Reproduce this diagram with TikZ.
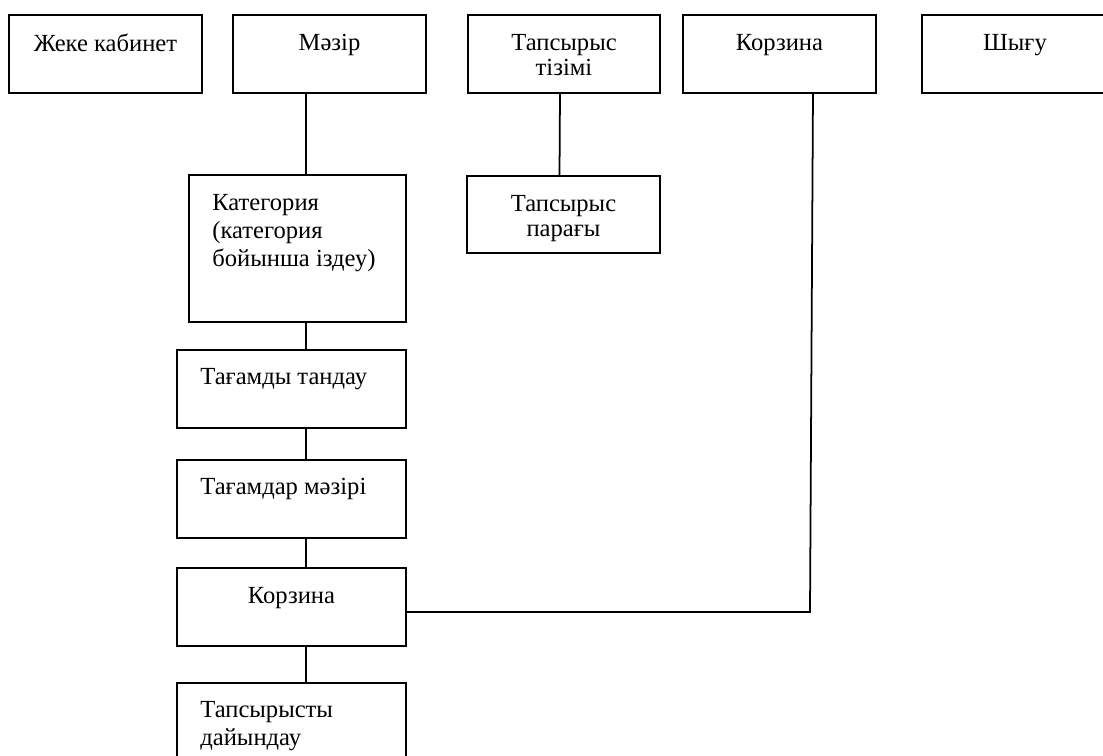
\documentclass[tikz,border=0pt]{standalone}
\usepackage{fontspec}
\setmainfont{Liberation Serif}
\usepackage{tikz}
\usetikzlibrary{positioning}
\tikzset{
  blok/.style={draw, line width=1pt, inner sep=0pt, outer sep=0pt},
  jazu/.style={font=\fontsize{14}{14.4}\selectfont, inner sep=0pt, align=center},
  solga/.style={jazu, align=left, font=\fontsize{14}{16}\selectfont},
  baylanys/.style={line width=1pt},
}

\begin{document}
\begin{tikzpicture}[x=0.02cm, y=-0.02cm]
  \useasboundingbox (0,0) rectangle (1103,756);
  \begin{scope}
    \clip (0,0) rectangle (1103,756);
    % top menu row
    \foreach \n/\x/\w/\lab in {
        kabinet/105.5/3.86/{Жеке кабинет},
        mazir/329.5/3.86/{Мәзір},
        tizim/564/3.84/{Тапсырыс\\тізімі},
        korzinaTop/779.5/3.86/{Корзина},
        shygu/1015/3.72/{Шығу}} {
      \node[blok, minimum width=\w cm, minimum height=1.56cm] (\n) at (\x,54) {};
      \node[jazu, anchor=north] at ([yshift=-0.38cm]\n.north) {\lab};
    }
    % second level
    \node[blok, minimum width=4.34cm, minimum height=2.94cm] (kategoriya) at (297.5,248.5) {};
    \node[solga, anchor=north west] at ([shift={(0.46cm,-0.38cm)}]kategoriya.north west)
      {Категория\\(категория\\бойынша іздеу)};
    \node[blok, minimum width=3.86cm, minimum height=1.54cm] (paragy) at (563.5,214.5) {};
    \node[jazu, anchor=north] at ([yshift=-0.38cm]paragy.north) {Тапсырыс\\парағы};
    % column under the menu
    \foreach \n/\y in {tandau/389, menu/499, korzina/607, dayyndau/722}
      \node[blok, minimum width=4.58cm, minimum height=1.56cm] (\n) at (291.5,\y) {};
    \foreach \n/\lab in {tandau/{Тағамды тандау}, menu/{Тағамдар мәзірі}, dayyndau/{Тапсырысты\\дайындау}}
      \node[solga, anchor=north west] at ([shift={(0.46cm,-0.36cm)}]\n.north west) {\lab};
    \node[jazu, anchor=north] at ([yshift=-0.38cm]korzina.north) {Корзина};
    % connectors
    \coordinate (ozek) at (306,0);
    \coordinate (burysh) at (810,612);
    \draw[baylanys] (mazir.south -| ozek) -- (kategoriya.north -| ozek);
    \foreach \a/\b in {kategoriya/tandau, tandau/menu, menu/korzina, korzina/dayyndau}
      \draw[baylanys] (\a.south -| ozek) -- (\b.north -| ozek);
    \draw[baylanys] ([xshift=-0.08cm]tizim.south) -- ([xshift=-0.08cm]paragy.north);
    \draw[baylanys] ([xshift=0.67cm]korzinaTop.south) -- (burysh) -- (korzina.east |- burysh);
  \end{scope}
\end{tikzpicture}
\end{document}
